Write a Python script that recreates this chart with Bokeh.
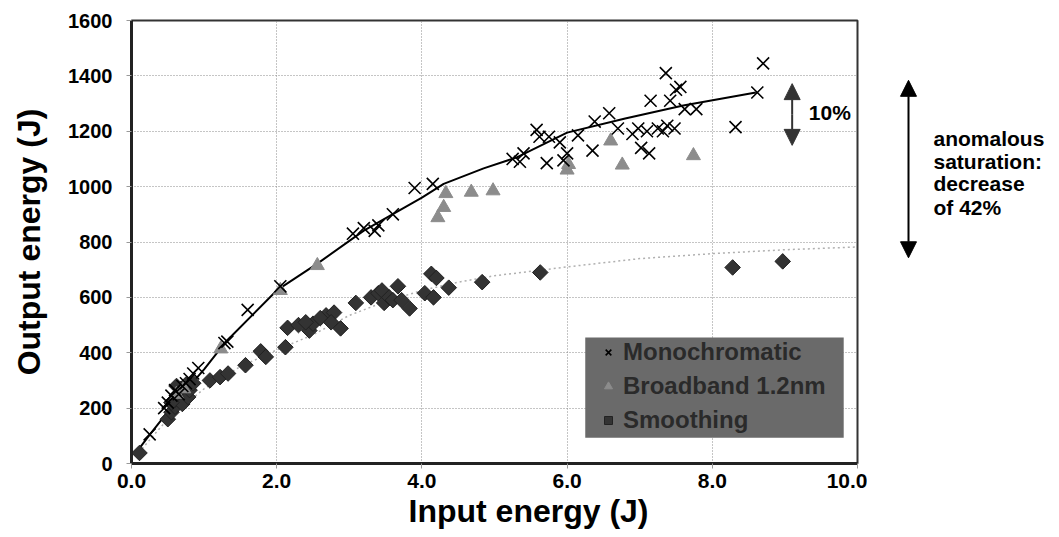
import math
from bokeh.plotting import figure
from bokeh.layouts import row
from bokeh.models import (FixedTicker, PrintfTickFormatter, Legend, LegendItem, BoxAnnotation,
                          Arrow, NormalHead, Label, Title)
from bokeh.embed import file_html
from bokeh.resources import INLINE

# ---------------- data ----------------
mono_x = [0.25, 0.45, 0.5, 0.55, 0.6, 0.65, 0.7, 0.75, 0.8, 0.85, 0.92, 1.28, 1.32, 1.6, 2.05,
          3.05, 3.2, 3.35, 3.4, 3.6, 3.9, 4.15, 5.25, 5.35, 5.4, 5.58, 5.62, 5.75, 5.72, 5.95, 5.9,
          6.0, 6.15, 6.35, 6.38, 6.58, 6.7, 6.9, 6.98, 7.1, 7.13, 7.15, 7.02, 7.25, 7.32, 7.36,
          7.38, 7.42, 7.5, 7.48, 7.56, 7.62, 7.78, 8.32, 8.62, 8.7]
mono_y = [105, 200, 220, 245, 265, 250, 280, 290, 305, 325, 345, 435, 440, 555, 640,
          830, 850, 840, 860, 900, 995, 1010, 1100, 1090, 1120, 1205, 1180, 1180, 1085, 1095, 1160,
          1120, 1185, 1130, 1235, 1265, 1210, 1190, 1210, 1200, 1120, 1310, 1140, 1210, 1200, 1410,
          1220, 1310, 1350, 1210, 1360, 1280, 1280, 1215, 1340, 1445]

broad_x = [0.62, 0.72, 1.23, 2.05, 2.56, 4.22, 4.3, 4.33, 4.68, 4.98, 6.0, 6.02, 6.6, 6.76, 7.74]
broad_y = [250, 270, 414, 625, 715, 888, 925, 975, 980, 985, 1060, 1080, 1165, 1078, 1112]

smooth_x = [0.11, 0.5, 0.55, 0.6, 0.6, 0.65, 0.68, 0.7, 0.72, 0.75, 0.78, 0.8, 0.85, 0.62, 0.55,
            1.08, 1.22, 1.33, 1.57, 1.78, 1.85, 2.12, 2.15, 2.3, 2.45, 2.5, 2.4, 2.68, 2.6, 2.79,
            2.88, 2.75, 3.09, 3.3, 3.4, 3.45, 3.48, 3.55, 3.6, 3.67, 3.72, 3.83, 4.04, 4.13, 4.16,
            4.2, 4.37, 4.83, 5.63, 8.28, 8.97]
smooth_y = [38, 160, 185, 205, 230, 250, 270, 215, 260, 285, 240, 265, 290, 280, 220,
            300, 312, 325, 355, 405, 385, 420, 490, 500, 480, 505, 510, 535, 525, 545,
            488, 510, 580, 600, 615, 625, 580, 600, 590, 640, 590, 560, 615, 685, 600,
            670, 635, 655, 690, 708, 730]

mono_fit_x = [0.05, 0.26, 0.6, 1.0, 1.3, 2.0, 2.56, 3.2, 4.0, 4.3, 4.85, 5.3, 6.0, 6.8, 7.6, 8.6]
mono_fit_y = [35, 107, 220, 340, 440, 625, 722, 841, 960, 1010, 1066, 1105, 1195, 1246, 1293, 1340]

smooth_fit_x = [0.1, 0.5, 1.0, 1.5, 2.0, 2.5, 3.0, 3.5, 4.0, 4.5, 5.0, 6.0, 7.0, 8.0, 9.0, 10.0]
smooth_fit_y = [40, 160, 270, 350, 410, 465, 535, 585, 625, 655, 678, 710, 740, 758, 772, 782]

x_ticks = [0, 2, 4, 6, 8, 10]
y_ticks = [0, 200, 400, 600, 800, 1000, 1200, 1400, 1600]

series_labels = ["Monochromatic", "Broadband 1.2nm", "Smoothing"]
annot_lines = ["anomalous", "saturation:", "decrease", "of 42%"]
annot_y = [1174, 1091, 1011, 925]

FONT = "Liberation Sans"
H = 537
TOP, BOTTOM = 20, 74

p = figure(width=867, height=H, x_range=(0, 10), y_range=(0, 1600),
           output_backend="svg", toolbar_location=None,
           min_border_left=131, min_border_right=10, min_border_top=TOP, min_border_bottom=BOTTOM)
p.background_fill_color = "white"
p.border_fill_color = "white"
p.outline_line_color = "#333333"
p.outline_line_width = 2

# axes
p.xaxis.ticker = FixedTicker(ticks=x_ticks)
p.yaxis.ticker = FixedTicker(ticks=y_ticks)
p.xaxis.formatter = PrintfTickFormatter(format="%.1f")
for ax in (p.xaxis, p.yaxis):
    ax.axis_line_color = "#222222"
    ax.axis_line_width = 3
    ax.major_tick_line_color = "#999999"
    ax.major_tick_out = 5
    ax.major_tick_in = 0
    ax.minor_tick_line_color = None
    ax.major_label_text_font = FONT
    ax.major_label_text_font_style = "bold"
    ax.major_label_text_color = "black"
    ax.axis_label_text_font = FONT
    ax.axis_label_text_font_style = "bold"
    ax.axis_label_text_color = "black"
p.xaxis.major_label_text_font_size = "21px"
p.yaxis.major_label_text_font_size = "20px"
p.yaxis.axis_label = "Output energy (J)"
p.yaxis.axis_label_text_font_size = "32px"
p.yaxis.axis_label_standoff = 18
p.xaxis.major_label_standoff = 5
p.yaxis.major_label_standoff = 14

p.add_layout(Title(text="Input energy (J)", align="left", offset=277, standoff=0,
                   text_font=FONT, text_font_style="bold", text_font_size="32px",
                   text_color="black"), "below")

p.grid.grid_line_color = "#8a8a8a"
p.grid.grid_line_dash = "1 2"
p.grid.grid_line_width = 1

# legend background box
p.add_layout(BoxAnnotation(left=6.25, right=9.81, bottom=93, top=455,
                           fill_color="#6a6a6a", fill_alpha=1.0, line_color=None))

# fit lines
p.line(smooth_fit_x, smooth_fit_y, line_color="#b0b0b0", line_width=1.5, line_dash="2 3")
p.line(mono_fit_x, mono_fit_y, line_color="black", line_width=2)

# markers
r_s = p.scatter(smooth_x, smooth_y, marker="square", size=11, angle=math.pi / 4,
                fill_color="#333333", line_color="#222222", line_width=1)
r_b = p.scatter(broad_x, broad_y, marker="triangle", size=14,
                fill_color="#8c8c8c", line_color="#8c8c8c")
r_m = p.scatter(mono_x, mono_y, marker="x", size=17, line_color="black", line_width=1.6)

legend = Legend(items=[LegendItem(label=series_labels[0], renderers=[r_m]),
                       LegendItem(label=series_labels[1], renderers=[r_b]),
                       LegendItem(label=series_labels[2], renderers=[r_s])],
                location=(464, 26), orientation="vertical",
                background_fill_alpha=0, border_line_alpha=0,
                label_text_font=FONT, label_text_font_style="bold",
                label_text_font_size="24px", label_text_color="#2a2a2a",
                glyph_width=20, glyph_height=28, label_height=28, spacing=6,
                padding=3, margin=0, label_standoff=5)
p.add_layout(legend, "center")

# 10% arrow and text
p.add_layout(Arrow(x_start=9.1, y_start=1260, x_end=9.1, y_end=1372,
                   line_color="#333333", line_width=2,
                   end=NormalHead(size=16, fill_color="#333333", line_color="#333333")))
p.add_layout(Arrow(x_start=9.1, y_start=1260, x_end=9.1, y_end=1149,
                   line_color="#333333", line_width=2,
                   end=NormalHead(size=16, fill_color="#333333", line_color="#333333")))
p.add_layout(Label(x=9.33, y=1268, text="10%", text_font=FONT, text_font_style="bold",
                   text_font_size="21px", text_baseline="middle", text_color="black"))

# right-hand panel: anomalous saturation arrow and text (same vertical scale)
q = figure(width=190, height=H, x_range=(0, 190), y_range=(0, 1600),
           output_backend="svg", toolbar_location=None,
           min_border_left=0, min_border_right=0, min_border_top=TOP, min_border_bottom=BOTTOM)
q.axis.visible = False
q.grid.visible = False
q.outline_line_color = None
q.background_fill_color = "white"
q.border_fill_color = "white"
q.add_layout(Arrow(x_start=41, y_start=1064, x_end=41, y_end=1384,
                   line_color="black", line_width=2,
                   end=NormalHead(size=16, fill_color="black", line_color="black")))
q.add_layout(Arrow(x_start=41, y_start=1064, x_end=41, y_end=743,
                   line_color="black", line_width=2,
                   end=NormalHead(size=16, fill_color="black", line_color="black")))
for t, yy in zip(annot_lines, annot_y):
    q.add_layout(Label(x=66, y=yy, text=t, text_font=FONT,
                       text_font_style="bold", text_font_size="21px",
                       text_baseline="middle", text_color="black"))

layout = row(p, q, spacing=0)
open("out.html", "w").write(file_html(layout, INLINE))
